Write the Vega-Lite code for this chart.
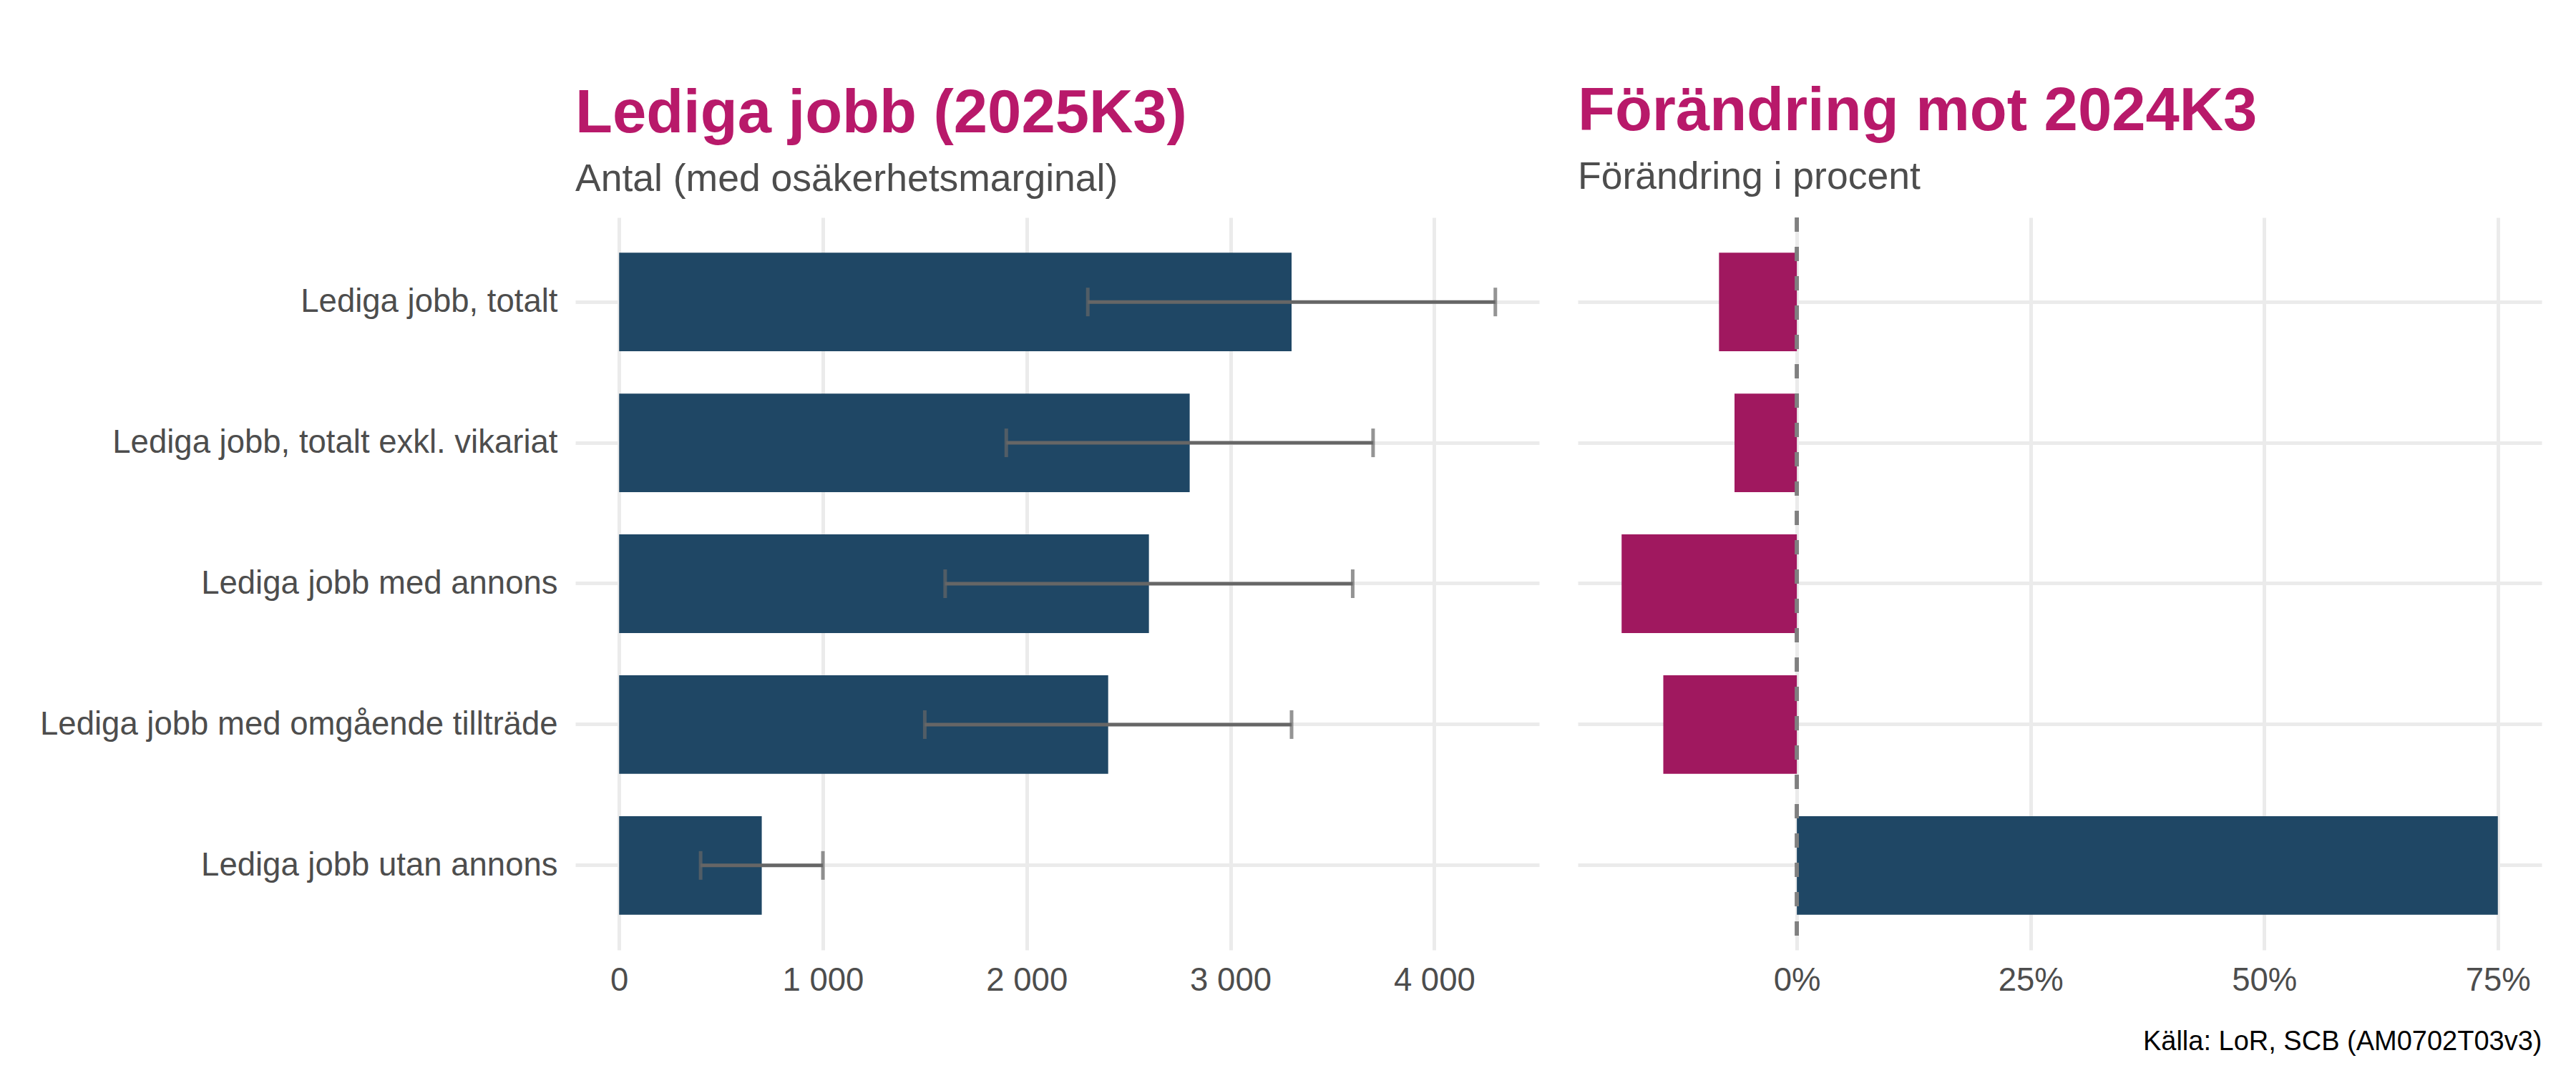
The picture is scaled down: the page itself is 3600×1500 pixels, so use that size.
{
  "$schema": "https://vega.github.io/schema/vega-lite/v6.json",
  "background": "white",
  "padding": {"left": 55, "top": 114, "right": 50, "bottom": 10},
  "config": {
    "view": {"stroke": null},
    "font": "Liberation Sans",
    "axis": {
      "labelFont": "Liberation Sans",
      "labelFontSize": 45.5,
      "labelColor": "#4D4D4D",
      "ticks": false,
      "domain": false,
      "gridColor": "#EBEBEB",
      "gridWidth": 5,
      "title": null
    },
    "title": {
      "font": "Liberation Sans",
      "fontSize": 85,
      "fontWeight": "bold",
      "color": "#B8196A",
      "subtitleFont": "Liberation Sans",
      "subtitleFontSize": 53.5,
      "subtitleFontWeight": "normal",
      "subtitleColor": "#4D4D4D",
      "subtitlePadding": 22,
      "anchor": "start",
      "frame": "group",
      "offset": 26
    }
  },
  "datasets": {
    "jobs": [
      {"kategori": "Lediga jobb, totalt", "antal": 3300, "lag": 2300, "hog": 4300, "forandring": -0.0833},
      {"kategori": "Lediga jobb, totalt exkl. vikariat", "antal": 2800, "lag": 1900, "hog": 3700, "forandring": -0.0667},
      {"kategori": "Lediga jobb med annons", "antal": 2600, "lag": 1600, "hog": 3600, "forandring": -0.1875},
      {"kategori": "Lediga jobb med omgående tillträde", "antal": 2400, "lag": 1500, "hog": 3300, "forandring": -0.1429},
      {"kategori": "Lediga jobb utan annons", "antal": 700, "lag": 400, "hog": 1000, "forandring": 0.75}
    ]
  },
  "spacing": 54,
  "resolve": {"scale": {"x": "independent", "y": "independent"}},
  "hconcat": [
    {
      "width": 1347,
      "height": 1024,
      "title": {"text": "Lediga jobb (2025K3)", "subtitle": "Antal (med osäkerhetsmarginal)"},
      "data": {"name": "jobs"},
      "encoding": {
        "y": {
          "field": "kategori",
          "type": "nominal",
          "sort": null,
          "title": null,
          "scale": {"paddingInner": 0.3, "paddingOuter": 0.25},
          "axis": {"grid": true, "bandPosition": 0.5, "labelPadding": 25, "labelLimit": 2000}
        }
      },
      "layer": [
        {
          "mark": {"type": "bar", "color": "#1F4765"},
          "encoding": {
            "x": {
              "field": "antal",
              "type": "quantitative",
              "title": null,
              "scale": {"domain": [-215, 4515], "nice": false, "zero": false},
              "axis": {"grid": true, "values": [0, 1000, 2000, 3000, 4000], "labelPadding": 20, "labelExpr": "replace(format(datum.value, ','), ',', ' ')"}
            },
            "x2": {"datum": 0}
          }
        },
        {
          "mark": {"type": "rule", "color": "#666666", "strokeWidth": 5},
          "encoding": {
            "x": {"field": "lag", "type": "quantitative", "title": null},
            "x2": {"field": "hog"}
          }
        },
        {
          "mark": {"type": "tick", "color": "#666666", "thickness": 5, "size": 40, "orient": "vertical"},
          "encoding": {"x": {"field": "lag", "type": "quantitative", "title": null}}
        },
        {
          "mark": {"type": "tick", "color": "#666666", "thickness": 5, "size": 40, "orient": "vertical"},
          "encoding": {"x": {"field": "hog", "type": "quantitative", "title": null}}
        }
      ]
    },
    {
      "width": 1347,
      "height": 1024,
      "title": {"text": "Förändring mot 2024K3", "subtitle": "Förändring i procent"},
      "data": {"name": "jobs"},
      "layer": [
        {
          "mark": {"type": "bar"},
          "encoding": {
            "y": {
              "field": "kategori",
              "type": "nominal",
              "sort": null,
              "title": null,
              "scale": {"paddingInner": 0.3, "paddingOuter": 0.25},
              "axis": {"grid": true, "bandPosition": 0.5, "labels": false}
            },
            "x": {
              "field": "forandring",
              "type": "quantitative",
              "scale": {"domain": [-0.234375, 0.796875], "nice": false, "zero": false},
              "axis": {
                "grid": true,
                "values": [0, 0.25, 0.5, 0.75],
                "format": ".0%",
                "labelPadding": 20,
                "title": "Källa: LoR, SCB (AM0702T03v3)",
                "titleAnchor": "end",
                "titleFont": "Liberation Sans",
                "titleFontSize": 38,
                "titleFontWeight": "normal",
                "titleColor": "#000000",
                "titlePadding": 44
              }
            },
            "x2": {"datum": 0},
            "color": {"condition": {"test": "datum.forandring < 0", "value": "#A0185F"}, "value": "#1F4765"}
          }
        },
        {
          "mark": {"type": "rule", "color": "#808080", "strokeWidth": 5, "strokeDash": [20, 21]},
          "encoding": {"x": {"datum": 0}}
        }
      ]
    }
  ]
}
